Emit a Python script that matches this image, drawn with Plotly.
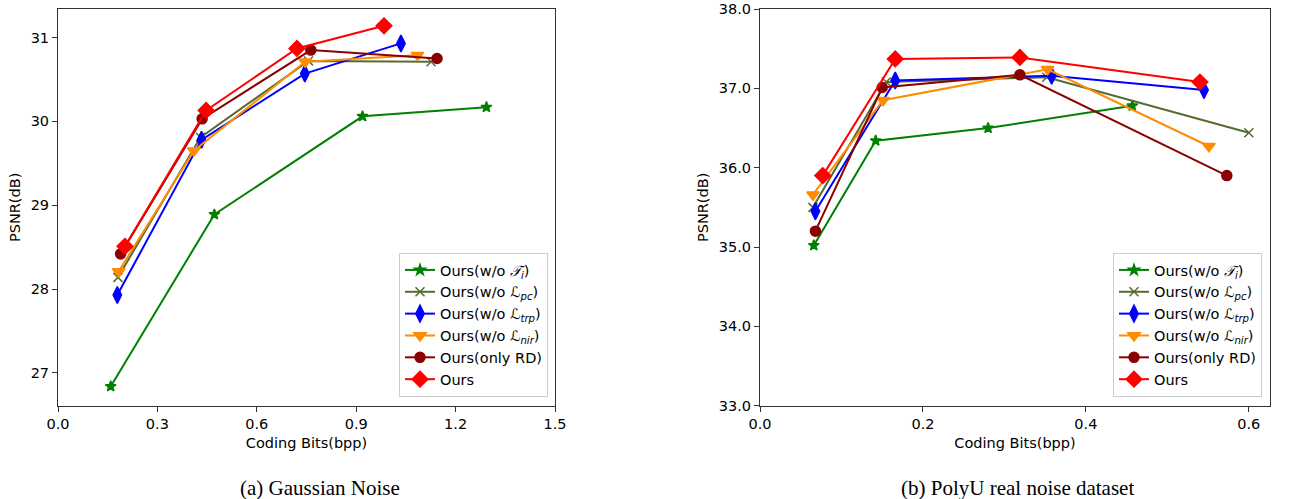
import plotly.graph_objects as go

# ---------------- data ----------------
series_names = [
    "Ours(w/o <i>𝒯<sub>i</sub></i>)",
    "Ours(w/o ℒ<sub><i>pc</i></sub>)",
    "Ours(w/o ℒ<sub><i>trp</i></sub>)",
    "Ours(w/o ℒ<sub><i>nir</i></sub>)",
    "Ours(only RD)",
    "Ours",
]

# (a) Gaussian Noise
gauss_bpp = [
    [0.159, 0.472, 0.919, 1.293],
    [0.181, 0.430, 0.756, 1.126],
    [0.179, 0.433, 0.745, 1.035],
    [0.183, 0.410, 0.746, 1.085],
    [0.189, 0.435, 0.763, 1.144],
    [0.202, 0.447, 0.721, 0.984],
]
gauss_psnr = [
    [26.84, 28.89, 30.06, 30.17],
    [28.14, 29.81, 30.72, 30.71],
    [27.93, 29.78, 30.57, 30.93],
    [28.21, 29.65, 30.71, 30.79],
    [28.42, 30.03, 30.85, 30.75],
    [28.51, 30.13, 30.87, 31.14],
]

# (b) PolyU real noise dataset
polyu_bpp = [
    [0.066, 0.142, 0.280, 0.457],
    [0.065, 0.155, 0.352, 0.600],
    [0.068, 0.166, 0.358, 0.545],
    [0.065, 0.151, 0.353, 0.551],
    [0.068, 0.150, 0.319, 0.573],
    [0.077, 0.166, 0.319, 0.540],
]
polyu_psnr = [
    [35.02, 36.34, 36.50, 36.78],
    [35.50, 37.08, 37.14, 36.44],
    [35.45, 37.10, 37.16, 36.98],
    [35.66, 36.85, 37.24, 36.27],
    [35.20, 37.01, 37.17, 35.90],
    [35.90, 37.37, 37.39, 37.08],
]

colors = ["#008000", "#556B2F", "#0000FF", "#FF8C00", "#8B0000", "#FF0000"]
symbols = ["star", "x-thin", "diamond-tall", "triangle-down", "circle", "diamond"]
sizes = [8, 9, 12, 11, 10, 12]

captions = ["(a) Gaussian Noise", "(b) PolyU real noise dataset"]

# ---------------- figure ----------------
fig = go.Figure()

for k, (bpp, psnr, xa, ya, lg) in enumerate([
    (gauss_bpp, gauss_psnr, "x", "y", "legend"),
    (polyu_bpp, polyu_psnr, "x2", "y2", "legend2"),
]):
    for i in range(len(series_names)):
        fig.add_trace(go.Scatter(
            x=bpp[i], y=psnr[i], xaxis=xa, yaxis=ya,
            mode="lines+markers", name=series_names[i], legend=lg,
            line=dict(color=colors[i], width=2),
            marker=dict(symbol=symbols[i], size=sizes[i], color=colors[i],
                        line=dict(color=colors[i], width=1.5)),
            cliponaxis=False,
        ))

W, H = 1294, 499
def px(x):
    return x / W
def py(y):
    return 1 - y / H

FS = 14.5
axis_common = dict(
    showline=True, linecolor="#333333", linewidth=1, mirror=True,
    ticks="outside", ticklen=5, tickcolor="#333333", showgrid=False, zeroline=False,
    automargin=False,
    tickfont=dict(family="DejaVu Sans", size=FS, color="black"),
)
title_font = dict(family="DejaVu Sans", size=FS, color="black")
legend_common = dict(
    xanchor="right", yanchor="bottom",
    bgcolor="rgba(255,255,255,0.8)", bordercolor="#cccccc", borderwidth=1,
    font=dict(family="DejaVu Sans", size=FS, color="black"), tracegroupgap=0,
)

fig.update_layout(
    width=W, height=H,
    margin=dict(l=0, r=0, t=0, b=0),
    paper_bgcolor="white", plot_bgcolor="white",
    font=dict(family="DejaVu Sans", color="black"),
    xaxis=dict(domain=[px(58), px(555)], range=[0, 1.5], tickvals=[0, 0.3, 0.6, 0.9, 1.2, 1.5],
               tickformat=".1f", anchor="y",
               title=dict(text="Coding Bits(bpp)", font=title_font, standoff=6), **axis_common),
    yaxis=dict(domain=[py(405.7), py(9)], range=[26.61, 31.34], tickvals=[27, 28, 29, 30, 31],
               anchor="x", title=dict(text="PSNR(dB)", font=title_font, standoff=6), **axis_common),
    xaxis2=dict(domain=[px(760), px(1270)], range=[0, 0.626], tickvals=[0, 0.2, 0.4, 0.6],
                tickformat=".1f", anchor="y2",
                title=dict(text="Coding Bits(bpp)", font=title_font, standoff=6), **axis_common),
    yaxis2=dict(domain=[py(405.7), py(9)], range=[33, 38], tickvals=[33, 34, 35, 36, 37, 38],
                tickformat=".1f", anchor="x2",
                title=dict(text="PSNR(dB)", font=title_font, standoff=6), **axis_common),
    legend=dict(x=px(548), y=py(397), **legend_common),
    legend2=dict(x=px(1262), y=py(397), **legend_common),
    showlegend=True,
)

for cap, cx in zip(captions, [320, 1017]):
    fig.add_annotation(text=cap, x=px(cx), y=py(488), xref="paper", yref="paper",
                       showarrow=False, xanchor="center", yanchor="middle",
                       font=dict(family="Liberation Serif", size=21, color="black"))

fig.write_html("out.html", config={"displayModeBar": False},
               post_script="document.body.style.margin='0';document.body.style.overflow='hidden';")
